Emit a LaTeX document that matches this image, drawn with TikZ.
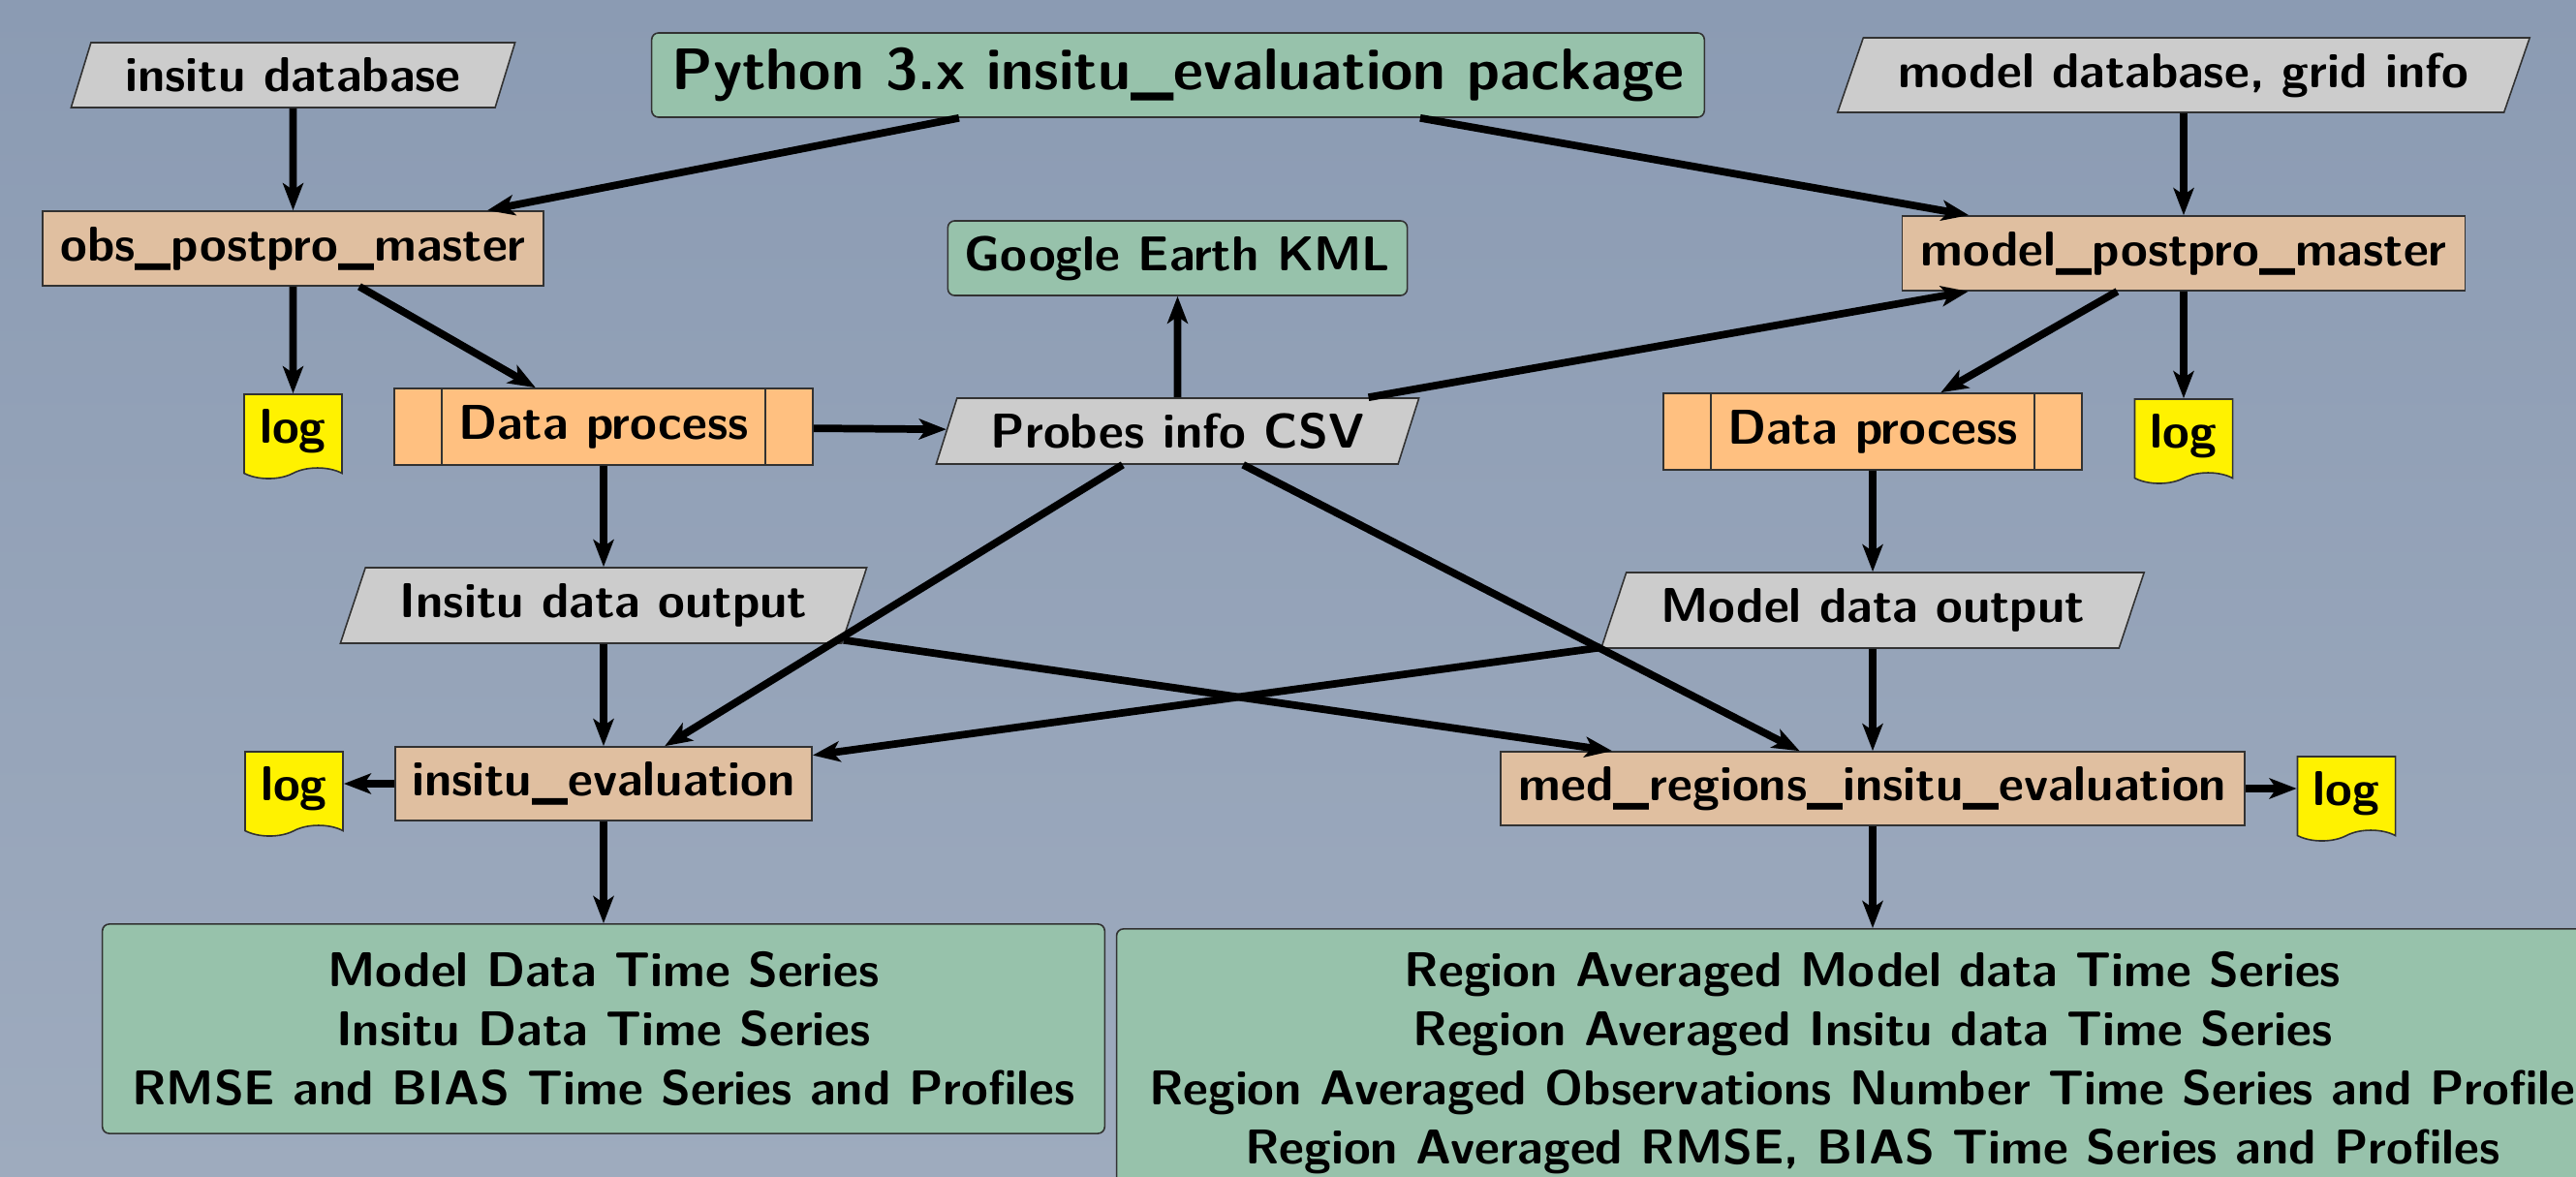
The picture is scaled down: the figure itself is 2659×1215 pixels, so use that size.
\documentclass[tikz,border=0pt]{standalone}
\usetikzlibrary{shapes.geometric,shapes.symbols,arrows.meta}
\definecolor{bgtop}{RGB}{139,155,179}
\definecolor{bgbot}{RGB}{158,171,190}
\definecolor{greenc}{RGB}{151,194,171}
\definecolor{tanc}{RGB}{224,191,160}
\definecolor{orangec}{RGB}{255,192,128}
\definecolor{grayc}{RGB}{204,204,204}
\definecolor{yellowc}{RGB}{255,242,0}
\definecolor{edgec}{RGB}{50,50,50}
\tikzset{
  base/.style={draw=edgec, line width=0.45pt, text=black, inner sep=0pt,
    font=\sffamily\bfseries\fontsize{14.35}{17.35}\selectfont},
  proc/.style={base, rectangle, fill=tanc, minimum height=0.77cm},
  io/.style={base, trapezium, trapezium left angle=60, trapezium right angle=120,
    trapezium stretches body, fill=grayc},
  outbox/.style={base, rectangle, rounded corners=0.07cm, fill=greenc, align=center},
  dproc/.style={base, rectangle, fill=orangec, minimum width=4.32cm, minimum height=0.79cm,
    path picture={
      \draw[edgec, line width=0.45pt]
        ([xshift=0.49cm]path picture bounding box.north west) -- ([xshift=0.49cm]path picture bounding box.south west)
        ([xshift=-0.49cm]path picture bounding box.north east) -- ([xshift=-0.49cm]path picture bounding box.south east);
    }},
  logdoc/.style={base, tape, tape bend top=none, tape bend bottom=in and out, tape bend height=0.11cm,
    fill=yellowc, minimum width=1.01cm, minimum height=0.87cm},
  conn/.style={line width=2.2pt, -{Stealth[length=0.28cm, width=0.21cm, inset=0.07cm]}}
}
\begin{document}
\begin{tikzpicture}[x=0.01cm, y=-0.01cm]
\useasboundingbox (0,0) rectangle (2659,1215);
\shade[top color=bgtop, bottom color=bgbot] (0,0) rectangle (2659,1215);
\clip (0,0) rectangle (2659,1215);

% nodes
\node[outbox, minimum width=10.86cm, minimum height=0.87cm,
  font=\sffamily\bfseries\fontsize{17.2}{20.6}\selectfont] (pkg) at (1216,77.5) {Python 3.x insitu\_evaluation package};
\node[io, minimum width=4.58cm, minimum height=0.67cm] (idb) at (302.5,77.5) {insitu database};
\node[io, minimum width=7.14cm, minimum height=0.77cm] (mdb) at (2254,77.5) {model database, grid info};

\node[proc, minimum width=5.17cm] (obs) at (302.5,256.5) {obs\_postpro\_master};
\node[proc, minimum width=5.81cm] (model) at (2254,261.5) {model\_postpro\_master};
\node[outbox, minimum width=4.74cm, minimum height=0.77cm] (kml) at (1215.5,266.5) {Google Earth KML};

\node[logdoc] (logtl) at (302.5,445) {log};
\node[dproc] (dpl) at (623,440.5) {Data process};
\node[io, minimum width=4.98cm, minimum height=0.68cm] (csv) at (1215.5,445) {Probes info CSV};
\node[dproc] (dpr) at (1933,445.5) {Data process};
\node[logdoc] (logtr) at (2254,450) {log};

\node[io, minimum width=5.43cm, minimum height=0.78cm] (ido) at (623,625) {Insitu data output};
\node[io, minimum width=5.60cm, minimum height=0.78cm] (mdo) at (1933,630) {Model data output};

\node[proc, minimum width=4.30cm, minimum height=0.76cm] (ieval) at (623,809) {insitu\_evaluation};
\node[logdoc] (logml) at (303.5,814) {log};
\node[proc, minimum width=7.68cm, minimum height=0.76cm] (med) at (1933,814) {med\_regions\_insitu\_evaluation};
\node[logdoc] (logmr) at (2422,819) {log};

\node[outbox, minimum width=10.34cm, minimum height=2.16cm] (resl) at (623,1062)
  {Model Data Time Series\\Insitu Data Time Series\\RMSE and BIAS Time Series and Profiles};
\node[outbox, minimum width=15.60cm, minimum height=2.76cm] (resr) at (1933,1097)
  {Region Averaged Model data Time Series\\Region Averaged Insitu data Time Series\\Region Averaged Observations Number Time Series and Profiles\\Region Averaged RMSE, BIAS Time Series and Profiles};

% connectors
\draw[conn] (idb) -- (obs);
\draw[conn] (pkg) -- (obs);
\draw[conn] (pkg) -- (model);
\draw[conn] (mdb) -- (model);
\draw[conn] (obs) -- (logtl);
\draw[conn] (obs) -- (dpl);
\draw[conn] (model) -- (dpr);
\draw[conn] (model) -- (logtr);
\draw[conn] (dpl) -- (csv);
\draw[conn] (csv) -- (kml);
\draw[conn] (csv) -- (model);
\draw[conn] (dpl) -- (ido);
\draw[conn] (dpr) -- (mdo);
\draw[conn] (csv) -- (ieval);
\draw[conn] (csv) -- (med);
\draw[conn] (ido) -- (ieval);
\draw[conn] (ido) -- (med);
\draw[conn] (mdo) -- (ieval);
\draw[conn] (mdo) -- (med);
\draw[conn] (ieval.west) -- (ieval.west -| logml.east);
\draw[conn] (med.east) -- (med.east -| logmr.west);
\draw[conn] (ieval) -- (resl);
\draw[conn] (med) -- (resr);
\end{tikzpicture}
\end{document}
